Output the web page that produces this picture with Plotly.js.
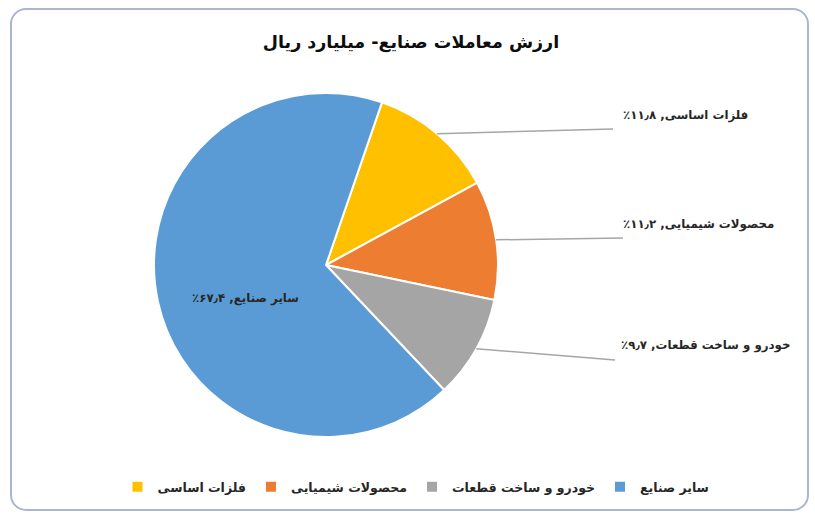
<!DOCTYPE html>
<html><head><meta charset="utf-8">
<script src="https://cdn.plot.ly/plotly-3.0.1.min.js"></script>
<style>
html,body{margin:0;padding:0;background:#fff;}
#wrap{position:relative;width:815px;height:518px;}
#chart{position:absolute;left:0;top:0;width:815px;height:518px;}
#frame{position:absolute;left:10px;top:8px;width:799px;height:503px;border:2px solid #aab6d0;border-radius:16px;pointer-events:none;box-sizing:border-box;}
</style></head><body>
<div id="wrap"><div id="chart"></div><div id="frame"></div></div>
<script>
// ---- data ----
const categories = ['فلزات اساسی', 'محصولات شیمیایی', 'خودرو و ساخت قطعات', 'سایر صنایع'];
const shares = [11.8, 11.2, 9.7, 67.4];
const colors = ['#FFC000', '#ED7D31', '#A5A5A5', '#5B9BD5'];
const chartTitle = 'ارزش معاملات صنایع- میلیارد ریال';

// ---- helpers ----
const faDigits = '۰۱۲۳۴۵۶۷۸۹';
function fa(n){ return String(n).replace(/[0-9]/g, d => faDigits[+d]).replace('.', '٫'); }
const RLM = '\u200F';
const labelText = categories.map((c, i) => RLM + c + ', ' + fa(shares[i]) + '٪' + RLM);

const W = 815, H = 518;
const cx = 326, cy = 265, R = 172;
const rotation = 19;
const FONT = 'DejaVu Sans';

// leader lines start at slice mid-angle on the rim (computed from data)
const total = shares.reduce((a, b) => a + b, 0);
let cum = 0;
const mids = shares.map(v => { const m = rotation + (cum + v / 2) / total * 360; cum += v; return m; });
const labelPos = [[621, 115], [621, 224], [619, 345], [245, 298]];
const labelAnchor = ['left', 'left', 'left', 'center'];
const lineEnd = [[613, 129], [623, 238], [615, 360]];

const shapes = [], annotations = [];
for (let i = 0; i < 4; i++) {
  if (i < 3) {
    const a = mids[i] * Math.PI / 180;
    const sx = cx + R * Math.sin(a), sy = cy - R * Math.cos(a);
    shapes.push({type: 'line', xref: 'paper', yref: 'paper',
      x0: sx / W, y0: 1 - sy / H, x1: lineEnd[i][0] / W, y1: 1 - lineEnd[i][1] / H,
      line: {color: '#a6a6a6', width: 1.5}});
  }
  annotations.push({xref: 'paper', yref: 'paper', x: labelPos[i][0] / W, y: 1 - labelPos[i][1] / H,
    xanchor: labelAnchor[i], yanchor: 'middle', showarrow: false,
    text: '<b>' + labelText[i] + '</b>', font: {family: FONT, size: 11.8, color: '#262626'}});
}

const trace = {
  type: 'pie', labels: categories, values: shares, sort: false,
  direction: 'clockwise', rotation: rotation,
  marker: {colors: colors, line: {color: '#ffffff', width: 2}},
  textinfo: 'none',
  hoverinfo: 'none',
  domain: {x: [(cx - R) / W, (cx + R) / W], y: [1 - (cy + R) / H, 1 - (cy - R) / H]}
};

const layout = {
  width: W, height: H, margin: {l: 0, r: 0, t: 0, b: 0},
  paper_bgcolor: 'rgba(0,0,0,0)', plot_bgcolor: 'rgba(0,0,0,0)',
  title: {text: '<b>' + chartTitle + '</b>', x: 411 / W, xanchor: 'center', y: 1 - 42 / H, yanchor: 'middle',
    font: {family: FONT, size: 17.5, color: '#0d0d0d'}},
  showlegend: true,
  legend: {orientation: 'h', x: 416 / W, xanchor: 'center', y: 1 - 487 / H, yanchor: 'middle',
    font: {family: FONT, size: 12.5, color: '#262626', weight: 'bold'}, traceorder: 'normal', itemclick: false},
  shapes: shapes, annotations: annotations
};

Plotly.newPlot('chart', [trace], layout, {displayModeBar: false, staticPlot: true});
</script>
</body></html>
